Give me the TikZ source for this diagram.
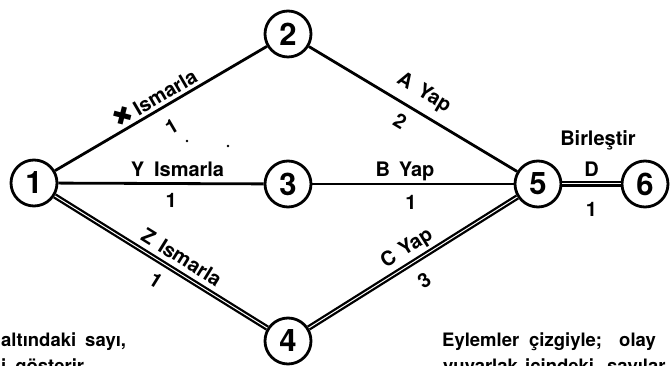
\documentclass[tikz,border=0pt]{standalone}
\usepackage{fontspec}
\setmainfont{TeX Gyre Heros}
\newfontfamily\symfont{DejaVu Sans}
\begin{document}
\begin{tikzpicture}[x=1pt,y=1pt,
  ev/.style={circle, draw, line width=2.8pt, minimum size=46pt, inner sep=0pt, font=\fontsize{31}{31}\selectfont\bfseries},
  act/.style={line width=2.8pt},
  crit/.style={line width=2.3pt, double, double distance=1pt},
  lbl/.style={font=\fontsize{20}{20}\selectfont\bfseries, inner sep=0pt, sloped},
  btxt/.style={font=\fontsize{18.5}{18.5}\selectfont\bfseries, inner sep=0pt, anchor=base west},
  ]
\useasboundingbox (0,0) rectangle (672,366);
\node[ev] (n1) at (34,183) {1};
\node[ev] (n2) at (288,332) {2};
\node[ev] (n3) at (288,182) {3};
\node[ev] (n4) at (288,25) {4};
\node[ev] (n5) at (538,182) {5};
\node[ev] (n6) at (645,182) {6};

\draw[act] (n1) -- (n2)
  node[lbl, pos=0.5, yshift=13pt] {{\symfont\fontsize{24}{24}\selectfont ✖}\,Ismarla}
  node[lbl, pos=0.5, yshift=-21pt] {1};
\draw[act] (n1) -- (n3)
  node[lbl, pos=0.58, yshift=14pt] {Y\hspace{10pt}Ismarla}
  node[lbl, pos=0.55, yshift=-17pt] {1};
\draw[crit] (n1) -- (n4)
  node[lbl, pos=0.56, yshift=15pt] {Z\hspace{8pt}Ismarla}
  node[lbl, pos=0.52, yshift=-18pt] {1};
\draw[act] (n2) -- (n5)
  node[lbl, pos=0.505, yshift=19pt] {A\hspace{9pt}Yap}
  node[lbl, pos=0.48, yshift=-17pt] {2};
\draw[act] (n3) -- (n5)
  node[lbl, pos=0.46, yshift=13pt] {B\hspace{9pt}Yap}
  node[lbl, pos=0.49, yshift=-18pt] {1};
\draw[crit] (n4) -- (n5)
  node[lbl, pos=0.51, yshift=15pt] {C\hspace{7pt}Yap}
  node[lbl, pos=0.5, yshift=-21pt] {3};
\draw[crit] (n5) -- (n6)
  node[lbl, pos=0.5, yshift=15pt] {D}
  node[lbl, pos=0.5, yshift=-25pt] {1};
\node[font=\fontsize{20}{20}\selectfont\bfseries, inner sep=0pt] (bir) at (598,226) {Birleştir};

\fill (187,225) circle (1.4);
\fill (228,220) circle (1.4);

\node[btxt] (t1) at (1,19) {altındaki\hspace{9pt}sayı,};
\node[btxt] (t2) at (1,-7) {i\hspace{9pt}gösterir};
\node[btxt] (r1) at (442,19) {Eylemler};
\node[btxt] (r2) at (529,19) {çizgiyle;};
\node[btxt] (r3) at (619,19) {olay};
\node[btxt] (r4) at (443,-7) {yuvarlak};
\node[btxt] (r5) at (525,-7) {içindeki};
\node[btxt] (r6) at (607,-7) {sayılar};
\end{tikzpicture}
\end{document}
